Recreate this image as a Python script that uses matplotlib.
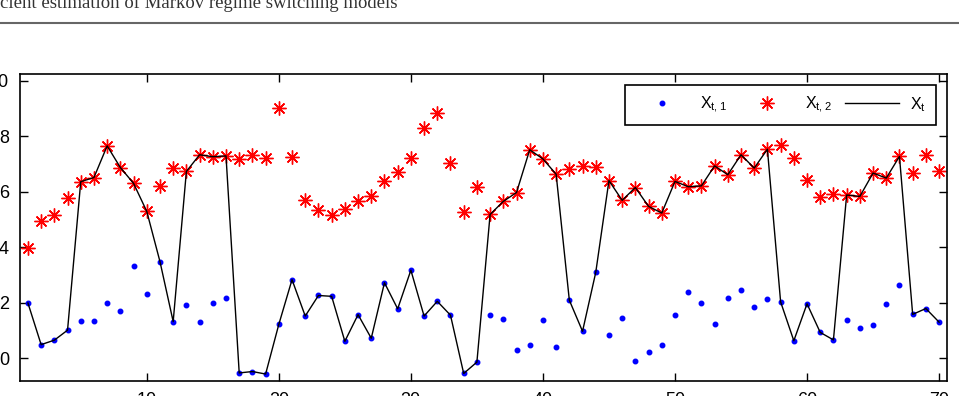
import numpy as np
import matplotlib.pyplot as plt
from matplotlib.lines import Line2D

# Zeitpunkte
t = np.arange(1, 71)

# Regime 1 (blaue Punkte)
x1 = [2.00, 0.50, 0.66, 1.02, 1.36, 1.35, 2.01, 1.71, 3.32, 2.31,
      3.49, 1.33, 1.92, 1.32, 1.99, 2.19, -0.52, -0.47, -0.56, 1.23,
      2.84, 1.53, 2.27, 2.24, 0.62, 1.58, 0.73, 2.73, 1.79, 3.18,
      1.53, 2.06, 1.56, -0.54, -0.13, 1.56, 1.43, 0.31, 0.48, 1.39,
      0.43, 2.10, 0.98, 3.10, 0.85, 1.46, -0.08, 0.25, 0.48, 1.55,
      2.40, 2.01, 1.23, 2.19, 2.46, 1.86, 2.13, 2.04, 0.64, 1.97,
      0.94, 0.67, 1.38, 1.10, 1.20, 1.95, 2.64, 1.59, 1.80, 1.31]

# Regime 2 (rote Sterne)
x2 = [3.99, 4.95, 5.18, 5.77, 6.37, 6.52, 7.66, 6.88, 6.31, 5.30,
      6.20, 6.86, 6.74, 7.34, 7.27, 7.30, 7.18, 7.34, 7.21, 9.04,
      7.27, 5.72, 5.35, 5.17, 5.38, 5.66, 5.85, 6.39, 6.72, 7.21,
      8.31, 8.85, 7.04, 5.28, 6.18, 5.19, 5.66, 5.98, 7.52, 7.19,
      6.64, 6.82, 6.92, 6.89, 6.41, 5.70, 6.16, 5.48, 5.24, 6.38,
      6.19, 6.22, 6.94, 6.62, 7.34, 6.86, 7.54, 7.70, 7.24, 6.44,
      5.82, 5.92, 5.89, 5.84, 6.68, 6.50, 7.28, 6.68, 7.34, 6.74]

# aktives Regime
s = [1]*4 + [2]*6 + [1]*2 + [2]*4 + [1]*19 + [2]*6 + [1]*3 + [2]*13 + [1]*5 + [2]*5 + [1]*3

xticks = [10, 20, 30, 40, 50, 60, 70]
yticks = [0, 2, 4, 6, 8, 10]

x1 = np.array(x1)
x2 = np.array(x2)
xt = np.where(np.array(s) == 1, x1, x2)

plt.rcParams['font.family'] = 'Liberation Sans'
plt.rcParams['mathtext.fontset'] = 'dejavusans'

fig = plt.figure(figsize=(9.59, 3.96), dpi=100)
ax = fig.add_axes([20/959, (396-380.7)/396, (947-20)/959, (380.7-74)/396])

ax.plot(t, x1, '.', color='#0000ff', markersize=6.5, label=r'$\mathregular{X_{t,1}}$')
ax.plot(t, x2, linestyle='none', marker=(8, 2, 0), color='#ff0000', markersize=10,
        markeredgewidth=1.0, label=r'$\mathregular{X_{t,2}}$')
ax.plot(t, xt, '-', color='black', linewidth=1.0, label=r'$\mathregular{X_t}$')

ax.set_xlim(0.4, 70.6)
ax.set_ylim(-0.8, 10.25)
ax.set_xticks(xticks)
ax.set_yticks(yticks)
ax.tick_params(direction='in', top=True, right=True, length=6, width=1.0,
               labelsize=13, pad=8)
for sp in ax.spines.values():
    sp.set_linewidth(1.2)

leg = ax.legend(loc='upper right', ncol=3, fontsize=11.5, handlelength=3.4,
                handletextpad=0.7, columnspacing=0.8, borderpad=0.6,
                borderaxespad=0.7, fancybox=False, framealpha=1, edgecolor='black')
leg.get_frame().set_linewidth(1.2)

# Kopfzeile der Seite
fig.text(0.0, (396-8)/396, 'cient estimation of Markov regime switching models',
         family='Liberation Serif', fontsize=13.5, color='#333333', va='baseline')
fig.add_artist(Line2D([0, 1], [(396-22.5)/396]*2, transform=fig.transFigure,
                      color='#666666', linewidth=1.5))

plt.savefig('out.png', dpi=100)
